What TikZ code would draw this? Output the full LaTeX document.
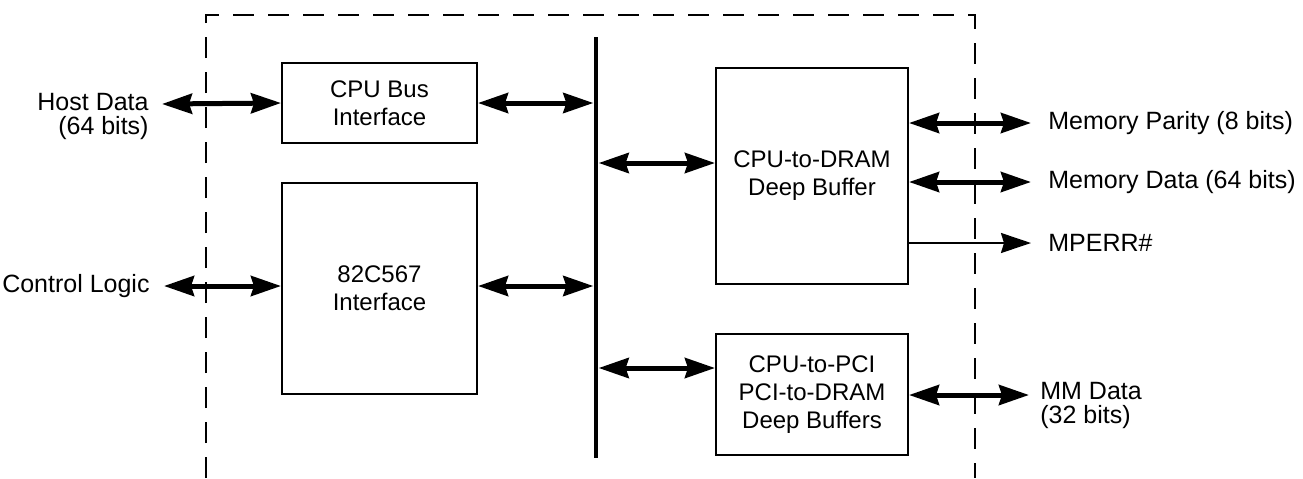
\documentclass[tikz,border=0pt]{standalone}
\usepackage{fontspec}
\setmainfont{Liberation Sans}
\usepackage{xcolor}
\usetikzlibrary{arrows.meta,positioning,calc}
\definecolor{ink}{HTML}{000000}
\tikzset{
  blocknode/.style={
    draw=ink,
    line width=1pt,
    align=center,
    inner sep=0pt,
    font=\fontsize{12}{14}\selectfont
  },
  busline/.style={fill=ink, inner sep=0pt, minimum width=2.25pt},
  dataarrow/.style={{Stealth[length=15pt,width=10pt,inset=1.5pt]}-{Stealth[length=15pt,width=10pt,inset=1.5pt]},line width=2.5pt,draw=ink},
  sigarrow/.style={-{Stealth[length=15pt,width=10pt,inset=1.5pt]},line width=1pt,draw=ink},
  sigtext/.style={inner sep=0pt, font=\fontsize{12.5}{12}\selectfont},
  chipborder/.style={draw=ink, line width=1pt, dash pattern=on 10.5pt off 7pt}
}
\begin{document}
\begin{tikzpicture}[x=0.5pt, y=-0.5pt]
  \useasboundingbox (0,0) rectangle (1303,478);
  % chip outline, open at the bottom
  \draw[chipborder] (206,478) -- (206,15) -- (975,15) -- (975,478);
  \node[busline, minimum height=210.5pt] (bus) at (596,247.5) {};
  \node[blocknode, minimum width=97.5pt, minimum height=40pt] (cpubus) at (379.5,103) {CPU Bus\\Interface};
  \node[blocknode, minimum width=97.5pt, minimum height=105.5pt] (ifc) at (379.5,288.5) {82C567\\Interface};
  \node[blocknode, minimum width=96pt, minimum height=108pt] (dram) at (812,176) {CPU-to-DRAM\\Deep Buffer};
  \node[blocknode, minimum width=96pt, minimum height=60.5pt] (pci) at (812,394.5) {CPU-to-PCI\\PCI-to-DRAM\\Deep Buffers};
  % pins and rows
  \coordinate (hostpin) at (162,104);
  \coordinate (ctlpin) at (164,286);
  \coordinate (parpin) at (1031,123);
  \coordinate (datpin) at (1031,182);
  \coordinate (errpin) at (1031,243);
  \coordinate (mmpin) at (1029,395);
  \coordinate (dramrow) at (0,163);
  \coordinate (pcirow) at (0,368);
  \node[sigtext, align=right, anchor=east] (host) at ($(hostpin)+(-13,12)$) {Host Data\\(64 bits)};
  \node[sigtext, left=7pt of ctlpin] (ctl) {Control Logic};
  \node[sigtext, right=8.5pt of parpin] (par) {Memory Parity (8 bits)};
  \node[sigtext, right=8.5pt of datpin] (dat) {Memory Data (64 bits)};
  \node[sigtext, right=8.5pt of errpin] (err) {MPERR\#};
  \node[sigtext, align=left, anchor=west] (mm) at ($(mmpin)+(11,10.5)$) {MM Data\\(32 bits)};
  \draw[dataarrow] (hostpin) -- (cpubus.west);
  \draw[dataarrow] (cpubus.east) -- (cpubus.east -| bus.west);
  \draw[dataarrow] (ctlpin) -- (ctlpin -| ifc.west);
  \draw[dataarrow] (ctlpin -| ifc.east) -- (ctlpin -| bus.west);
  \draw[dataarrow] (dramrow -| bus.east) -- (dramrow -| dram.west);
  \draw[dataarrow] (pcirow -| bus.east) -- (pcirow -| pci.west);
  \draw[dataarrow] (parpin -| dram.east) -- (parpin);
  \draw[dataarrow] (datpin -| dram.east) -- (datpin);
  \draw[sigarrow] (errpin -| dram.east) -- (errpin);
  \draw[dataarrow] (mmpin -| pci.east) -- (mmpin);
\end{tikzpicture}
\end{document}
